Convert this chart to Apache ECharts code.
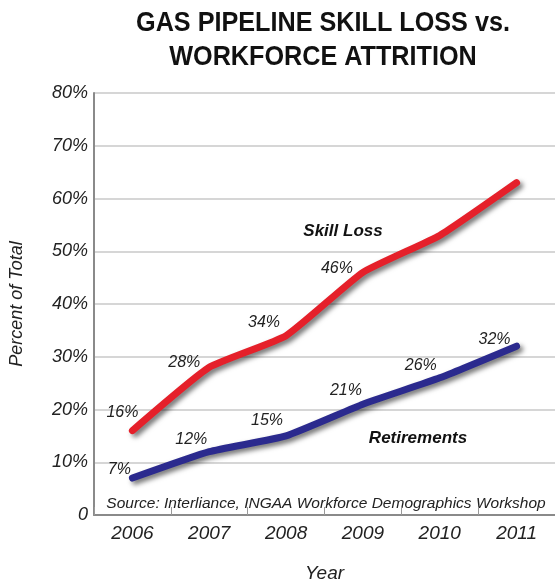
<!DOCTYPE html>
<html>
<head>
<meta charset="utf-8">
<script src="https://cdn.jsdelivr.net/npm/echarts@6/dist/echarts.min.js"></script>
<style>
html,body{margin:0;padding:0;background:#fff;}
#chart{width:555px;height:588px;}
</style>
</head>
<body>
<div id="chart"></div>
<script>
var years = ['2006', '2007', '2008', '2009', '2010', '2011'];
var skillLoss = [16, 28, 34, 46, 53, 63];
var retirements = [7, 12, 15, 21, 26, 32];
var yTicks = [0, 10, 20, 30, 40, 50, 60, 70, 80];
var titleLines = ['GAS PIPELINE SKILL LOSS vs.', 'WORKFORCE ATTRITION'];

// which points carry a value label, and label offsets
var skillLabelShown = [true, true, true, true, false, false];
var skillLabelOffset = [[-10, -18], [-25, -5], [-22, -13], [-26, -4], [0, 0], [0, 0]];
var retLabelOffset = [[-13, -9], [-18, -12], [-19, -15], [-17, -14], [-19, -12], [-22, -7]];

var labelFont = {fontFamily: 'Liberation Sans', fontStyle: 'italic', fontSize: 16, color: '#222'};

function buildData(values, offsets, shown) {
  return values.map(function (v, i) {
    return {
      value: v,
      label: {
        show: shown ? shown[i] : true,
        position: 'inside',
        offset: offsets[i],
        formatter: v + '%'
      }
    };
  });
}

var titleStyle = {textAlign: 'center', textVerticalAlign: 'middle', fontFamily: 'Liberation Sans',
  fontWeight: 'bold', fontSize: 28, fill: '#111'};

var chart = echarts.init(document.getElementById('chart'), null, {renderer: 'canvas'});
chart.setOption({
  animation: false,
  backgroundColor: '#fff',
  grid: {left: 94, top: 93, width: 464, height: 431},
  xAxis: {
    type: 'category',
    data: years,
    boundaryGap: true,
    name: 'Year',
    nameLocation: 'middle',
    nameGap: 49,
    nameTextStyle: {fontFamily: 'Liberation Sans', fontStyle: 'italic', fontSize: 19, color: '#222'},
    axisLine: {lineStyle: {color: '#8a8a8a', width: 2}},
    axisTick: {show: true, inside: true, length: 8, lineStyle: {color: '#999', width: 1}},
    axisLabel: {fontFamily: 'Liberation Sans', fontStyle: 'italic', fontSize: 19, color: '#222', margin: 9}
  },
  yAxis: {
    type: 'value',
    min: 0,
    max: 80,
    interval: 10,
    name: 'Percent of Total',
    nameLocation: 'middle',
    nameGap: 68,
    nameRotate: 90,
    nameTextStyle: {fontFamily: 'Liberation Sans', fontStyle: 'italic', fontSize: 18, color: '#222'},
    axisLine: {show: true, lineStyle: {color: '#8a8a8a', width: 2}},
    axisTick: {show: false},
    splitLine: {lineStyle: {color: '#c8c8c8', width: 1.5}},
    axisLabel: {
      fontFamily: 'Liberation Sans', fontStyle: 'italic', fontSize: 18, color: '#222', margin: 6,
      formatter: function (v) { return yTicks.indexOf(v) >= 0 ? (v === 0 ? '0' : v + '%') : ''; }
    }
  },
  series: [
    {
      name: 'Skill Loss',
      type: 'line',
      data: buildData(skillLoss, skillLabelOffset, skillLabelShown),
      symbol: 'circle',
      symbolSize: 1,
      smooth: 0.15,
      itemStyle: {color: '#e5202a'},
      lineStyle: {color: '#e5202a', width: 7, cap: 'round', join: 'round',
        shadowColor: 'rgba(0,0,0,0.55)', shadowBlur: 5, shadowOffsetX: 3, shadowOffsetY: 3},
      label: labelFont
    },
    {
      name: 'Retirements',
      type: 'line',
      data: buildData(retirements, retLabelOffset, null),
      symbol: 'circle',
      symbolSize: 1,
      smooth: 0.15,
      itemStyle: {color: '#2b2a8e'},
      lineStyle: {color: '#2b2a8e', width: 7, cap: 'round', join: 'round',
        shadowColor: 'rgba(0,0,0,0.55)', shadowBlur: 5, shadowOffsetX: 3, shadowOffsetY: 3},
      label: labelFont
    }
  ],
  graphic: [
    {type: 'text', x: 323, y: 23, scaleX: 0.9, style: Object.assign({text: titleLines[0]}, titleStyle)},
    {type: 'text', x: 323, y: 57, scaleX: 0.9, style: Object.assign({text: titleLines[1]}, titleStyle)},
    {type: 'text', x: 343, y: 231, style: {text: 'Skill Loss', textAlign: 'center', textVerticalAlign: 'middle',
      fontFamily: 'Liberation Sans', fontStyle: 'italic', fontWeight: 'bold', fontSize: 17, fill: '#111'}},
    {type: 'text', x: 418, y: 438, style: {text: 'Retirements', textAlign: 'center', textVerticalAlign: 'middle',
      fontFamily: 'Liberation Sans', fontStyle: 'italic', fontWeight: 'bold', fontSize: 17, fill: '#111'}},
    {type: 'text', x: 326, y: 504, style: {text: 'Source: Interliance, INGAA Workforce Demographics Workshop', textAlign: 'center', textVerticalAlign: 'middle',
      fontFamily: 'Liberation Sans', fontStyle: 'italic', fontSize: 15.5, fill: '#222'}}
  ]
});
</script>
</body>
</html>
